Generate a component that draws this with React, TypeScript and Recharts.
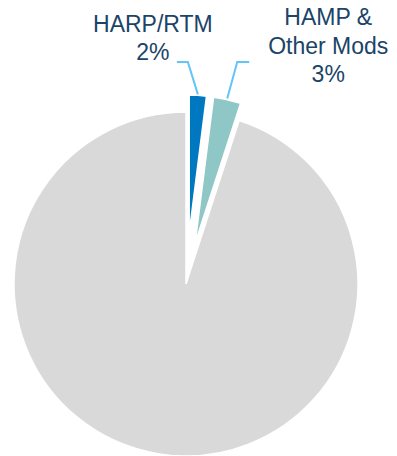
import React from 'react';
import { PieChart, Pie, Cell, Sector } from 'recharts';

const categories = ['HARP/RTM', 'HAMP & Other Mods', 'Other'];
const shares = [2, 3, 95];
const labelLines = [['HARP/RTM'], ['HAMP &', 'Other Mods']];
const percentLabels = ['2%', '3%'];

const COLORS = ['#0077C1', '#8FC7C6', '#D9D9D9'];
const EXPLODE = [
  { offset: 51, radius: 138 },
  { offset: 42, radius: 147 },
];
const LEADER = [
  { dx: -10, hLen: -11, textDx: -24, lastBaselineDy: -2 },
  { dx: 10, hLen: 12, textDx: 79, lastBaselineDy: 20 },
];
const TEXT_COLOR = '#1B4468';
const LINE_COLOR = '#63C4F6';
const LINE_HEIGHT = 28.5;

const data = categories.map((name, i) => ({ name, value: shares[i] }));

const RAD = Math.PI / 180;

function renderLabel(props: any) {
  const { cx, cy, startAngle, endAngle, index } = props;
  if (index > 1) return null;
  const mid = (startAngle + endAngle) / 2;
  const ex = EXPLODE[index];
  const cos = Math.cos(-mid * RAD);
  const sin = Math.sin(-mid * RAD);
  const ax = cx + ex.offset * cos;
  const ay = cy + ex.offset * sin;
  const px = ax + ex.radius * cos;
  const py = ay + ex.radius * sin;
  const ld = LEADER[index];
  const elbowY = cy - 222;
  const elbowX = px + ld.dx;
  const endX = elbowX + ld.hLen;
  const lines = [...labelLines[index], percentLabels[index]];
  const lastY = elbowY + ld.lastBaselineDy;
  const tx = endX + ld.textDx;
  return (
    <g key={`lbl-${index}`}>
      <Sector
        cx={ax}
        cy={ay}
        innerRadius={0}
        outerRadius={ex.radius}
        startAngle={startAngle}
        endAngle={endAngle}
        fill={COLORS[index]}
        stroke="#fff"
        strokeWidth={1.5}
      />
      <polyline
        points={`${px},${py - 1} ${elbowX},${elbowY} ${endX},${elbowY}`}
        fill="none"
        stroke={LINE_COLOR}
        strokeWidth={2}
      />
      <text
        textAnchor="middle"
        fill={TEXT_COLOR}
        fontSize={23}
        fontFamily="'Liberation Sans', Arial, sans-serif"
      >
        {lines.map((t, i) => (
          <tspan key={i} x={tx} y={lastY - (lines.length - 1 - i) * LINE_HEIGHT}>
            {t}
          </tspan>
        ))}
      </text>
    </g>
  );
}

export default function App() {
  return (
    <div style={{ position: 'absolute', left: 0, top: 0, background: '#fff' }}>
      <PieChart width={397} height={456} margin={{ top: 0, right: 0, bottom: 0, left: 0 }}>
        <Pie
          data={data}
          dataKey="value"
          nameKey="name"
          cx={186}
          cy={284}
          innerRadius={0}
          outerRadius={172}
          startAngle={90}
          endAngle={-270}
          stroke="#fff"
          strokeWidth={1.5}
          labelLine={false}
          label={renderLabel}
          isAnimationActive={false}
        >
          {data.map((d, i) => (
            <Cell
              key={d.name}
              fill={i < 2 ? 'transparent' : COLORS[i]}
              stroke={i < 2 ? 'none' : '#fff'}
            />
          ))}
        </Pie>
      </PieChart>
    </div>
  );
}
